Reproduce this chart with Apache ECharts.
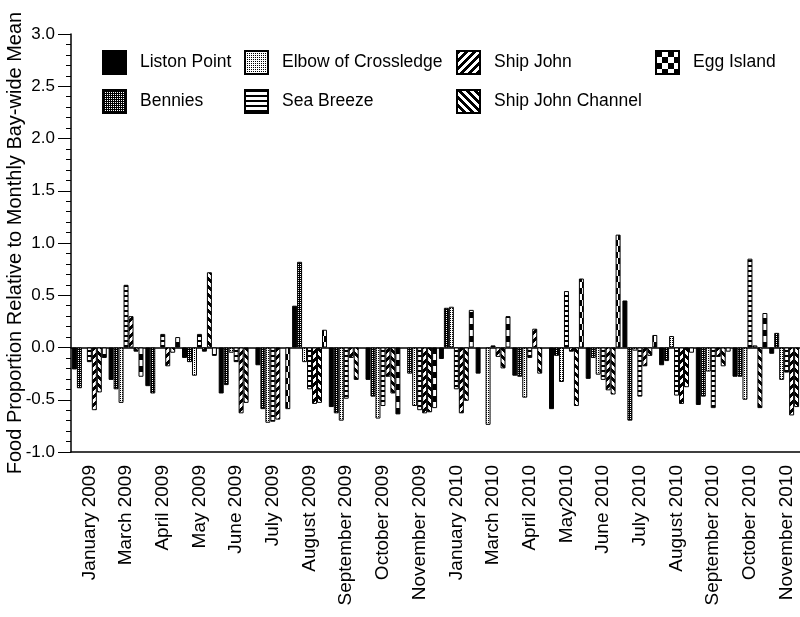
<!DOCTYPE html>
<html>
<head>
<meta charset="utf-8">
<script src="https://cdn.jsdelivr.net/npm/echarts@6/dist/echarts.min.js"></script>
<style>
  html, body { margin: 0; padding: 0; background: #fff; }
  #chart { width: 800px; height: 617px; }
</style>
</head>
<body>
<div id="chart"></div>
<script>
// Sampling months (x-axis categories)
const months = [
  'January 2009', 'March 2009', 'April 2009', 'May 2009', 'June 2009',
  'July 2009', 'August 2009', 'September 2009', 'October 2009', 'November 2009',
  'January 2010', 'March 2010', 'April 2010', 'May2010', 'June 2010',
  'July 2010', 'August 2010', 'September 2010', 'October 2010', 'November 2010'
];

// Food proportion relative to the monthly bay-wide mean, one array per site
const listonPoint     = [-0.21, -0.31, -0.37, -0.10, -0.44, -0.17, 0.40, -0.57, -0.31, null, -0.11, -0.25, -0.27, -0.59, -0.30, 0.45, -0.17, -0.55, -0.28, -0.06];
const bennies         = [-0.39, -0.40, -0.44, -0.14, -0.36, -0.59, 0.82, -0.63, -0.47, -0.25, 0.38, null, -0.28, -0.08, -0.10, -0.70, -0.13, -0.47, -0.28, 0.14];
const elbowCrossledge = [null, -0.53, null, -0.27, -0.05, -0.72, -0.14, -0.70, -0.68, -0.56, 0.39, -0.74, -0.48, -0.33, -0.26, -0.03, 0.11, -0.23, -0.50, -0.31];
const seaBreeze       = [-0.14, 0.60, 0.13, 0.13, -0.14, -0.71, -0.40, -0.49, -0.56, -0.60, -0.40, 0.02, -0.10, 0.54, -0.31, -0.47, -0.46, -0.58, 0.85, -0.24];
const shipJohn        = [-0.60, 0.30, -0.18, -0.04, -0.63, -0.69, -0.54, -0.10, -0.28, -0.63, -0.63, -0.09, 0.18, -0.04, -0.41, -0.18, -0.54, -0.09, 0.02, -0.65];
const shipJohnChannel = [-0.43, -0.04, -0.05, 0.72, -0.53, null, -0.53, -0.31, -0.44, -0.62, -0.51, -0.20, -0.25, -0.56, -0.45, -0.08, -0.38, -0.18, -0.58, -0.57];
const eggIsland       = [-0.10, -0.28, 0.10, -0.08, null, -0.59, 0.17, null, -0.64, -0.58, 0.36, 0.30, null, 0.66, 1.08, 0.12, -0.05, -0.04, 0.33, null];

// Y-axis range and tick step
const yMin = -1.0;
const yMax = 3.0;
const yStep = 0.5;

const FONT = '"Liberation Sans", Arial, Helvetica, sans-serif';

// Build a small repeating bitmap tile; paint(x, y) returns true for black pixels
function makeTile(w, h, paint) {
  const c = document.createElement('canvas');
  c.width = w; c.height = h;
  const ctx = c.getContext('2d');
  ctx.fillStyle = '#fff';
  ctx.fillRect(0, 0, w, h);
  ctx.fillStyle = '#000';
  for (let y = 0; y < h; y++) {
    for (let x = 0; x < w; x++) {
      if (paint(x, y)) ctx.fillRect(x, y, 1, 1);
    }
  }
  return { image: c, repeat: 'repeat' };
}

const fills = {
  solid: '#000',
  stipple: makeTile(2, 2, (x, y) => !(x === 0 && y === 0)),
  dots: makeTile(2, 2, (x, y) => x === 0 && y === 0),
  hlines: makeTile(1, 5, (x, y) => y < 2),
  diagUp: makeTile(8, 8, (x, y) => ((x + y) % 8) < 4),
  diagDown: makeTile(8, 8, (x, y) => ((x - y + 16) % 8) < 4),
  checker: makeTile(12, 12, (x, y) => ((Math.floor(x / 6) + Math.floor(y / 6)) % 2) === 0)
};

const sites = [
  { name: 'Liston Point', data: listonPoint, fill: fills.solid },
  { name: 'Bennies', data: bennies, fill: fills.stipple },
  { name: 'Elbow of Crossledge', data: elbowCrossledge, fill: fills.dots },
  { name: 'Sea Breeze', data: seaBreeze, fill: fills.hlines },
  { name: 'Ship John', data: shipJohn, fill: fills.diagUp },
  { name: 'Ship John Channel', data: shipJohnChannel, fill: fills.diagDown },
  { name: 'Egg Island', data: eggIsland, fill: fills.checker }
];

const series = sites.map(s => ({
  name: s.name,
  type: 'bar',
  data: s.data,
  barGap: '0%',
  barCategoryGap: '5%',
  itemStyle: { color: s.fill, borderColor: '#000', borderWidth: 1 },
  emphasis: { disabled: true },
  animation: false
}));

// Legend laid out as columns of swatches
function legendColumn(names, left) {
  return {
    data: names,
    orient: 'vertical',
    left: left,
    top: 45,
    itemWidth: 23,
    itemHeight: 23,
    itemGap: 14,
    icon: 'rect',
    selectedMode: false,
    textStyle: { fontFamily: FONT, fontSize: 17.5, color: '#000', padding: [0, 0, 0, 9] }
  };
}

const option = {
  animation: false,
  backgroundColor: '#fff',
  legend: [
    legendColumn(['Liston Point', 'Bennies'], 97),
    legendColumn(['Elbow of Crossledge', 'Sea Breeze'], 239),
    legendColumn(['Ship John', 'Ship John Channel'], 451),
    legendColumn(['Egg Island'], 650)
  ],
  grid: {
    left: 71, top: 34, right: -5, bottom: 165,
    containLabel: false,
    outerBoundsMode: 'none'
  },
  xAxis: [
    {
      type: 'category',
      data: months,
      position: 'bottom',
      axisLine: { onZero: false, lineStyle: { color: '#000', width: 1.5 } },
      axisTick: { show: false },
      axisLabel: {
        interval: 0,
        rotate: 90,
        margin: 13,
        fontFamily: FONT,
        fontSize: 19,
        color: '#000'
      },
      splitLine: { show: false }
    },
    {
      type: 'category',
      data: months,
      position: 'top',
      axisLine: { lineStyle: { color: '#000', width: 1.5 } },
      axisTick: { show: false },
      axisLabel: { show: false },
      splitLine: { show: false }
    }
  ],
  yAxis: {
    type: 'value',
    min: yMin,
    max: yMax,
    interval: yStep,
    name: 'Food Proportion Relative to Monthly Bay-wide Mean',
    nameLocation: 'middle',
    nameGap: 46,
    nameMoveOverlap: false,
    nameTextStyle: { fontFamily: FONT, fontSize: 20, color: '#000' },
    axisLine: { show: true, lineStyle: { color: '#000', width: 1.5 } },
    axisTick: { show: true, inside: false, length: 13, lineStyle: { color: '#000', width: 1 } },
    minorTick: { show: true, splitNumber: 5, length: 5, lineStyle: { color: '#000', width: 1 } },
    axisLabel: {
      margin: 16,
      fontFamily: FONT,
      fontSize: 17,
      color: '#000',
      formatter: v => v.toFixed(1)
    },
    splitLine: { show: false },
    minorSplitLine: { show: false }
  },
  series: series
};

const chart = echarts.init(document.getElementById('chart'), null, { renderer: 'canvas' });
chart.setOption(option);
</script>
</body>
</html>
